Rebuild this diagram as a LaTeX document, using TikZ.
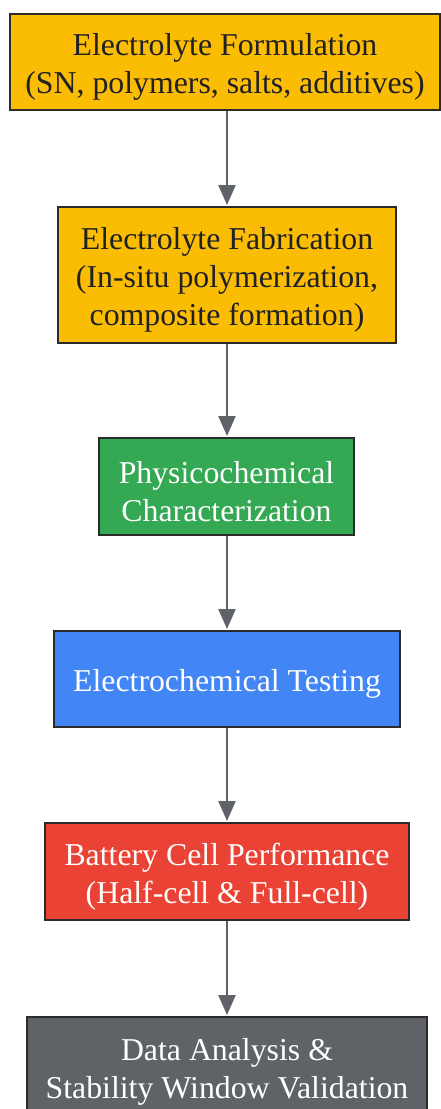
\documentclass[tikz,border=0pt]{standalone}
\usepackage{fontspec}
\setmainfont{Liberation Serif}
\usetikzlibrary{arrows.meta}
\definecolor{gyellow}{HTML}{FBBC04}
\definecolor{ggreen}{HTML}{34A853}
\definecolor{gblue}{HTML}{4285F4}
\definecolor{gred}{HTML}{EA4335}
\definecolor{ggray}{HTML}{5F6368}
\definecolor{darktext}{HTML}{202124}
\definecolor{borderc}{HTML}{2B2B2B}
\tikzset{
  stagebox/.style={draw=borderc, line width=2pt, inner sep=0pt},
  stagetext/.style={inner sep=0pt, align=center, yshift=-5pt,
    font=\fontsize{31.8}{38}\selectfont},
  flowarrow/.style={draw=ggray, line width=2.5pt, -{Triangle[width=17pt,length=20pt]}, shorten >=1pt}
}
\begin{document}
\begin{tikzpicture}[x=1pt,y=-1pt]
\clip (0,0) rectangle (441,1109);
\fill[white] (0,0) rectangle (441,1109);
\node[stagebox, fill=gyellow, minimum width=430pt, minimum height=96pt] (b1) at (225,62) {};
\node[stagetext, text=darktext] (t1) at (b1.center) {Electrolyte Formulation\\(SN, polymers, salts, additives)};
\node[stagebox, fill=gyellow, minimum width=338pt, minimum height=136pt] (b2) at (227,275) {};
\node[stagetext, text=darktext] (t2) at (b2.center) {Electrolyte Fabrication\\(In-situ polymerization,\\composite formation)};
\node[stagebox, fill=ggreen, minimum width=255pt, minimum height=97pt] (b3) at (226.5,486.5) {};
\node[stagetext, text=white] (t3) at (b3.center) {Physicochemical\\Characterization};
\node[stagebox, fill=gblue, minimum width=346pt, minimum height=96pt] (b4) at (227,679) {};
\node[stagetext, text=white] (t4) at (b4.center) {Electrochemical Testing};
\node[stagebox, fill=gred, minimum width=364pt, minimum height=97pt] (b5) at (227,871.5) {};
\node[stagetext, text=white] (t5) at (b5.center) {Battery Cell Performance\\(Half-cell \& Full-cell)};
\node[stagebox, fill=ggray, minimum width=400pt, minimum height=100pt] (b6) at (227,1067) {};
\node[stagetext, text=white] (t6) at (b6.center) {Data Analysis \&\\Stability Window Validation};
\draw[flowarrow] (b1.south -| 227,0) -- (b2.north -| 227,0);
\draw[flowarrow] (b2.south -| 227,0) -- (b3.north -| 227,0);
\draw[flowarrow] (b3.south -| 227,0) -- (b4.north -| 227,0);
\draw[flowarrow] (b4.south -| 227,0) -- (b5.north -| 227,0);
\draw[flowarrow] (b5.south -| 227,0) -- (b6.north -| 227,0);
\end{tikzpicture}
\end{document}
